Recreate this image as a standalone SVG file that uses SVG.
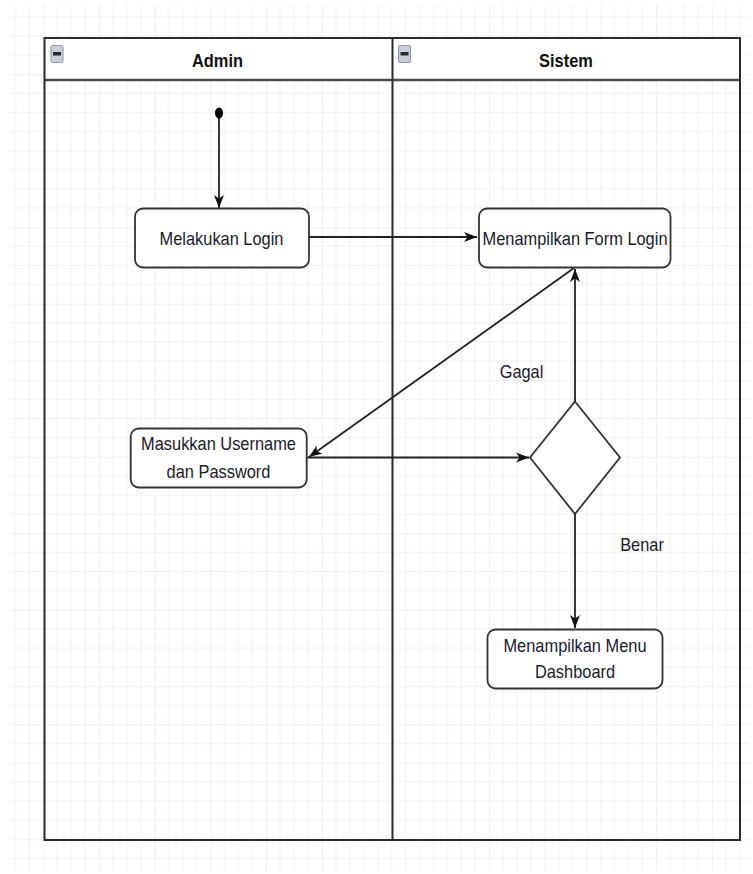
<svg xmlns="http://www.w3.org/2000/svg" width="753" height="874" viewBox="0 0 753 874">
<style>
  .lane { fill: #ffffff; stroke: #2b2b2b; stroke-width: 2; }
  .hdr { stroke: #4a4a4a; stroke-width: 2.5; }
  .node { fill: #ffffff; stroke: #333333; stroke-width: 1.8; }
  .txt { font-family: "Liberation Sans", Arial, sans-serif; font-size: 16.4px; fill: #1a1a2a; text-anchor: middle; }
  .htxt { font-family: "Liberation Sans", Arial, sans-serif; font-size: 16.4px; font-weight: bold; fill: #111; text-anchor: middle; }
  .edge { fill: none; stroke: #222222; stroke-width: 1.8; }
  .icon { fill: #c9ced8; stroke: #8a94a6; stroke-width: 1; }
</style>
<defs>
  <pattern id="grid" x="43.3" y="-2.4" width="55.72" height="76.52" patternUnits="userSpaceOnUse">
    <path d="M13.93 0V76.52M27.86 0V76.52M41.79 0V76.52M0 19.13H55.72M0 38.26H55.72M0 57.39H55.72" stroke="#f0f0f0" stroke-width="1" fill="none"/>
    <path d="M0 0V76.52M0 0H55.72" stroke="#e0e0e0" stroke-width="1" fill="none"/>
  </pattern>
  <marker id="arr" markerUnits="userSpaceOnUse" markerWidth="14" markerHeight="12" refX="13" refY="6" orient="auto">
    <path d="M0,1 L13,6 L0,11 L3.5,6 z" fill="#111111"/>
  </marker>
</defs>
<rect x="0" y="0" width="753" height="874" fill="#ffffff"/>
<rect x="10" y="5" width="740" height="866" fill="url(#grid)"/>

<g id="lane-admin">
  <rect x="45" y="39" width="347" height="41" fill="#ffffff"/>
  <line class="hdr" x1="44.5" y1="80" x2="392.5" y2="80"/>
  <rect class="icon" x="51" y="45.5" width="12" height="17" rx="1.5"/>
  <rect x="53" y="52" width="8" height="3.5" fill="#2a2a2a"/>
  <text class="htxt" transform="translate(217.5,66.5) scale(1,1.12)">Admin</text>
</g>
<g id="lane-sistem">
  <rect x="393" y="39" width="346" height="41" fill="#ffffff"/>
  <line class="hdr" x1="392.5" y1="80" x2="740" y2="80"/>
  <rect class="icon" x="398.5" y="45.5" width="12" height="17" rx="1.5"/>
  <rect x="400.5" y="52" width="8" height="3.5" fill="#2a2a2a"/>
  <text class="htxt" transform="translate(566,66.5) scale(1,1.12)">Sistem</text>
</g>
<g id="lane-frame">
  <rect x="44.5" y="38" width="695.5" height="802" fill="none" stroke="#2b2b2b" stroke-width="2"/>
  <line x1="392.5" y1="38" x2="392.5" y2="840" stroke="#2b2b2b" stroke-width="2"/>
</g>

<g id="connectors">
  <path class="edge" d="M219 118V208" marker-end="url(#arr)"/>
  <path class="edge" d="M309 237H477" marker-end="url(#arr)"/>
  <path class="edge" d="M574 268L309 457" marker-end="url(#arr)"/>
  <path class="edge" d="M307 457.5H529" marker-end="url(#arr)"/>
  <path class="edge" d="M575 401.5V269" marker-end="url(#arr)"/>
  <path class="edge" d="M575 514V628" marker-end="url(#arr)"/>
</g>

<g id="start">
  <ellipse cx="219" cy="113" rx="4" ry="5.5" fill="#000"/>
</g>
<g id="melakukan-login">
  <rect class="node" x="135" y="208.5" width="174" height="59" rx="8"/>
  <text class="txt" transform="translate(221.5,244.5) scale(1,1.12)">Melakukan Login</text>
</g>
<g id="form-login">
  <rect class="node" x="479" y="208.5" width="191.5" height="59" rx="8"/>
  <text class="txt" transform="translate(575,244.5) scale(1,1.12)">Menampilkan Form Login</text>
</g>
<g id="masukkan">
  <rect class="node" x="130.7" y="428.5" width="176" height="59" rx="8"/>
  <text class="txt" transform="translate(218.5,450) scale(1,1.12)">Masukkan Username</text>
  <text class="txt" transform="translate(218.5,478) scale(1,1.12)">dan Password</text>
</g>
<g id="decision">
  <path class="node" d="M575 401.5L620 457.5L575 514L530 457.5Z"/>
</g>
<g id="dashboard">
  <rect class="node" x="487.5" y="629.5" width="175" height="59" rx="8"/>
  <text class="txt" transform="translate(575,651.5) scale(1,1.12)">Menampilkan Menu</text>
  <text class="txt" transform="translate(575,677.5) scale(1,1.12)">Dashboard</text>
</g>
<g id="labels">
  <text class="txt" transform="translate(521.5,377.5) scale(1,1.12)">Gagal</text>
  <text class="txt" transform="translate(642,551) scale(1,1.12)">Benar</text>
</g>
</svg>
